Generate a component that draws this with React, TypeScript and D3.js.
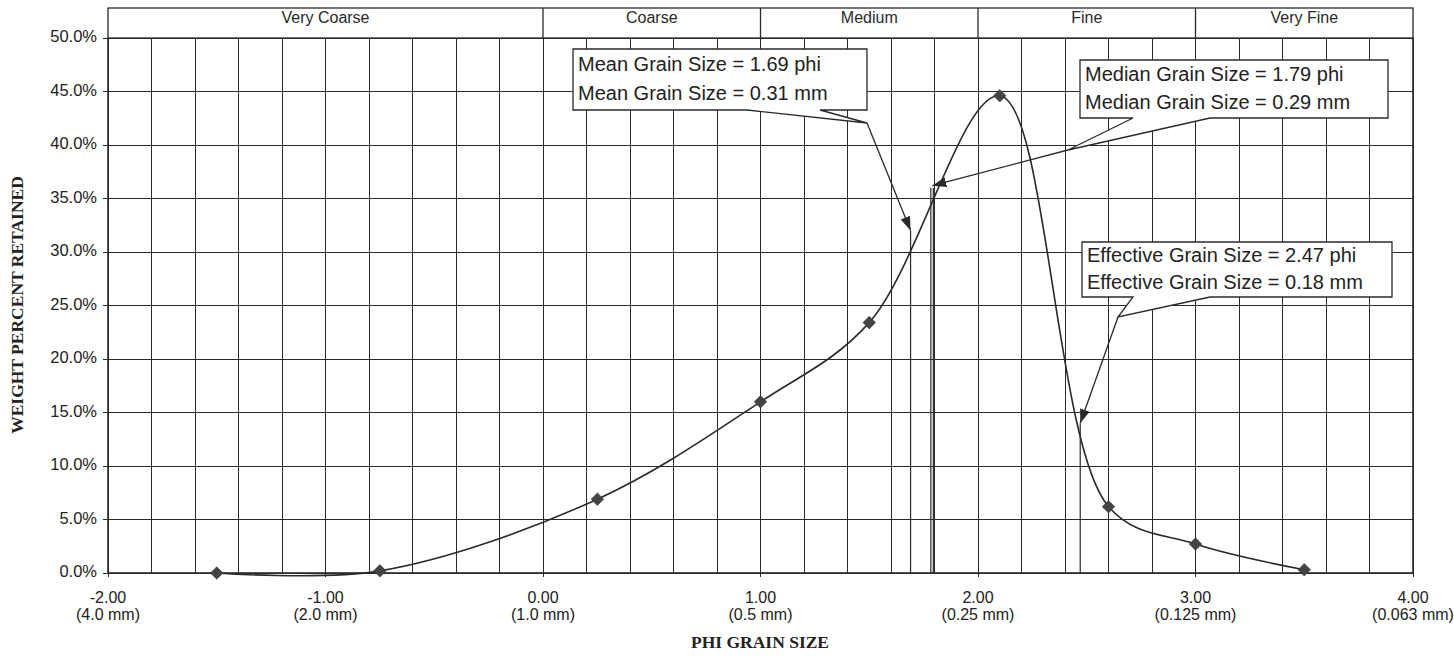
import * as d3 from "d3"

// grain size distribution
const phiValues = [-1.5, -0.75, 0.25, 1.0, 1.5, 2.1, 2.6, 3.0, 3.5]
const weightPercent = [0.0, 0.2, 6.9, 16.0, 23.4, 44.6, 6.2, 2.7, 0.3]

const sizeClasses = ["Very Coarse", "Coarse", "Medium", "Fine", "Very Fine"]
const classBounds = [-2, 0, 1, 2, 3, 4]

const phiTicks = [-2, -1, 0, 1, 2, 3, 4]
const mmLabels = ["4.0 mm", "2.0 mm", "1.0 mm", "0.5 mm", "0.25 mm", "0.125 mm", "0.063 mm"]
const percentTicks = [0, 5, 10, 15, 20, 25, 30, 35, 40, 45, 50]

const statNames = ["Mean", "Median", "Effective"]
const statPhi = [1.69, 1.79, 2.47]
const statMm = [0.31, 0.29, 0.18]
const statPercent = [32.0, 36.2, 14.0]

const W = 1454
const H = 656
const margin = { left: 108, right: 41, top: 38, bottom: 83 }
const headerTop = 8

// callout boxes (layout only)
const callouts = [
  { x: 573, y: 49, w: 294, h: 61, wedge: [747, 820], elbow: [867, 123] },
  { x: 1080, y: 60, w: 308, h: 58, wedge: [1133, 1210], elbow: [1068, 150] },
  { x: 1082, y: 242, w: 310, h: 55, wedge: [1133, 1210], elbow: [1118, 317] },
]

const sans = "'Liberation Sans', Arial, sans-serif"
const serif = "'Liberation Serif', 'Times New Roman', serif"
const ink = "#2a2a2a"

export default function App() {
  const x = d3.scaleLinear().domain([-2, 4]).range([margin.left, W - margin.right])
  const y = d3.scaleLinear().domain([0, 50]).range([H - margin.bottom, margin.top])

  const pts: [number, number][] = phiValues.map((p, i) => [p, weightPercent[i]])
  const line = d3.line<[number, number]>()
    .x(d => x(d[0]))
    .y(d => y(d[1]))
    .curve(d3.curveCatmullRom.alpha(0.5))

  const gridPhi = d3.range(-2, 4.0001, 0.2)
  const fmtPct = (v: number) => d3.format(".1f")(v) + "%"
  const fmtPhi = (v: number) => d3.format(".2f")(v).replace("\u2212", "-")

  return (
    <div style={{ position: "fixed", left: 0, top: 0 }}>
      <svg width={W} height={H} style={{ display: "block", background: "#fff" }}>
        <defs>
          <marker id="arrow" viewBox="0 0 14 10" refX="14" refY="5" markerWidth="14" markerHeight="10"
            markerUnits="userSpaceOnUse" orient="auto">
            <path d="M0,0 L14,5 L0,10 Z" fill={ink} />
          </marker>
        </defs>

        {/* grid */}
        <g stroke={ink} strokeWidth={1} shapeRendering="crispEdges">
          {gridPhi.map((p, i) => (
            <line key={"v" + i} x1={x(p)} x2={x(p)} y1={y(50)} y2={y(0)} />
          ))}
          {percentTicks.map(v => (
            <line key={"h" + v} x1={x(-2)} x2={x(4)} y1={y(v)} y2={y(v)} />
          ))}
          {percentTicks.map(v => (
            <line key={"t" + v} x1={x(-2) - 5} x2={x(-2)} y1={y(v)} y2={y(v)} />
          ))}
          {phiTicks.map(p => (
            <line key={"xt" + p} x1={x(p)} x2={x(p)} y1={y(0)} y2={y(0) + 4} />
          ))}
        </g>

        {/* frame */}
        <rect x={x(-2)} y={y(50)} width={x(4) - x(-2)} height={y(0) - y(50)}
          fill="none" stroke={ink} strokeWidth={1.6} />

        {/* size class header */}
        <g>
          <rect x={x(-2)} y={headerTop} width={x(4) - x(-2)} height={y(50) - headerTop}
            fill="#fff" stroke={ink} strokeWidth={1.3} />
          {classBounds.slice(1, -1).map(b => (
            <line key={b} x1={x(b)} x2={x(b)} y1={headerTop} y2={y(50)} stroke={ink} strokeWidth={1.3} />
          ))}
          {sizeClasses.map((c, i) => (
            <text key={c} x={(x(classBounds[i]) + x(classBounds[i + 1])) / 2} y={19}
              textAnchor="middle" dominantBaseline="middle" fontFamily={sans} fontSize={16}
              fill={ink}>{c}</text>
          ))}
        </g>

        {/* vertical stat lines */}
        <g stroke={ink} strokeWidth={1.2}>
          <line x1={x(statPhi[0])} x2={x(statPhi[0])} y1={y(statPercent[0])} y2={y(0)} />
          <line x1={x(statPhi[1]) - 1.5} x2={x(statPhi[1]) - 1.5} y1={y(statPercent[1]) + 2} y2={y(0)} />
          <line x1={x(statPhi[1]) + 1} x2={x(statPhi[1]) + 1} y1={y(statPercent[1]) + 2} y2={y(0)} />
          <line x1={x(statPhi[2])} x2={x(statPhi[2])} y1={y(statPercent[2])} y2={y(0)} />
        </g>

        {/* distribution curve */}
        <path d={line(pts) || ""} fill="none" stroke={ink} strokeWidth={1.6} />
        {pts.map((d, i) => (
          <path key={i} d={d3.symbol(d3.symbolDiamond2, 100)() || ""}
            transform={`translate(${x(d[0])},${y(d[1])})`} fill="#444" stroke="#333" strokeWidth={0.6} />
        ))}

        {/* callouts */}
        {callouts.map((c, i) => {
          const outline = `M${c.x},${c.y} H${c.x + c.w} V${c.y + c.h} H${c.wedge[1]} L${c.elbow[0]},${c.elbow[1]} L${c.wedge[0]},${c.y + c.h} H${c.x} Z`
          const lh = c.h / 2
          return (
            <g key={statNames[i]}>
              <path d={outline} fill="#fff" stroke={ink} strokeWidth={1.3} />
              <line x1={c.elbow[0]} y1={c.elbow[1]} x2={x(statPhi[i])} y2={y(statPercent[i])}
                stroke={ink} strokeWidth={1.3} markerEnd="url(#arrow)" />
              <text x={c.x + 5} y={c.y + lh * 0.55} dominantBaseline="middle" fontFamily={sans}
                fontSize={20} fill="#222">{`${statNames[i]} Grain Size = ${statPhi[i].toFixed(2)} phi`}</text>
              <text x={c.x + 5} y={c.y + lh * 1.5} dominantBaseline="middle" fontFamily={sans}
                fontSize={20} fill="#222">{`${statNames[i]} Grain Size = ${statMm[i].toFixed(2)} mm`}</text>
            </g>
          )
        })}

        {/* y axis labels */}
        {percentTicks.map(v => (
          <text key={v} x={x(-2) - 11} y={y(v)} textAnchor="end" dominantBaseline="middle"
            fontFamily={sans} fontSize={16.5} fill="#222">{fmtPct(v)}</text>
        ))}

        {/* x axis labels */}
        {phiTicks.map((p, i) => (
          <text key={p} x={x(p)} textAnchor="middle" fontFamily={sans} fontSize={16} fill="#222">
            <tspan x={x(p)} y={603}>{fmtPhi(p)}</tspan>
            <tspan x={x(p)} y={620}>{`(${mmLabels[i]})`}</tspan>
          </text>
        ))}

        <text x={760} y={648} textAnchor="middle" fontFamily={serif} fontWeight="bold" fontSize={17.5}
          fill="#222">PHI GRAIN SIZE</text>
        <text transform={`translate(23,305) rotate(-90)`} textAnchor="middle"
          fontFamily={serif} fontWeight="bold" fontSize={17.5} fill="#222">WEIGHT PERCENT RETAINED</text>
      </svg>
    </div>
  )
}
